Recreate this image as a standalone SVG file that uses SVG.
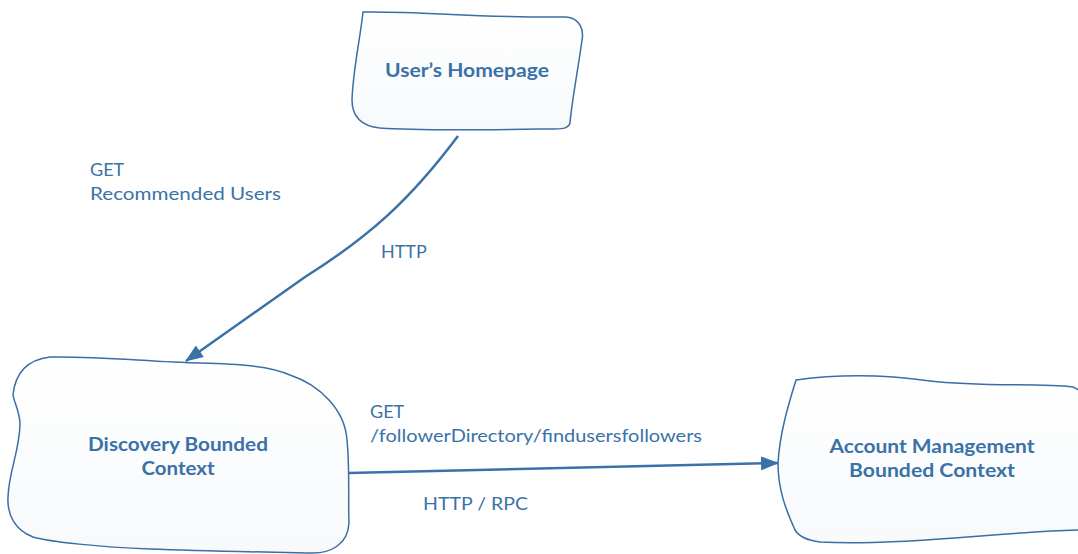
<svg xmlns="http://www.w3.org/2000/svg" width="1078" height="554" viewBox="0 0 1078 554">
<defs>
<linearGradient id="g" x1="0" y1="0" x2="0" y2="1">
<stop offset="0" stop-color="#ffffff"/>
<stop offset="1" stop-color="#f7f9fb"/>
</linearGradient>
<marker id="ah" markerWidth="18" markerHeight="14" refX="17" refY="7" orient="auto" markerUnits="userSpaceOnUse">
<path d="M0,0 L18,7 L0,14 Z" fill="#3a72a8"/>
</marker>
<style>
.shape{fill:url(#g);stroke:#3a6ea5;stroke-width:1.5}
.lbl{font-family:Lato,"Liberation Sans",sans-serif;font-weight:bold;font-size:19.5px;fill:#3a72a8;text-anchor:middle}
.t{font-family:Lato,"Liberation Sans",sans-serif;font-size:18px;fill:#3a72a8}
.c{fill:none;stroke:#3a72a8;stroke-width:2.5}
</style>
</defs>
<rect width="1078" height="554" fill="#ffffff"/>
<g id="connectors">
<path class="c" d="M458,136 C410,200 370,236 305,277 L186,361" marker-end="url(#ah)"/>
<path class="c" d="M348,473 L778,463" marker-end="url(#ah)"/>
</g>
<g id="homepage">
<path class="shape" d="M363,12 C420,11 480,18 566,17 C580,18 584,30 582,40 C578,70 572,100 570,123 C568,130 560,129 540,129 C480,130 420,131 380,128 C360,126 352,115 352,100 C353,70 360,40 363,12 Z"/>
<text class="lbl" x="467" y="77" textLength="164" lengthAdjust="spacingAndGlyphs">User’s Homepage</text>
</g>
<g id="discovery">
<path class="shape" d="M13,395 C15,375 25,360 50,357 C100,356 150,362 200,363 C240,364 270,366 290,375 C320,385 345,410 347,440 C350,470 348,500 349,523 C348,545 330,553 313,553 C260,552 200,551 150,549 C100,547 50,542 33,537 C15,530 7,515 8,497 C9,470 20,450 20,423 C19,410 14,402 13,395 Z"/>
<text class="lbl" x="178" y="451" textLength="180" lengthAdjust="spacingAndGlyphs">Discovery Bounded</text>
<text class="lbl" x="178" y="475" textLength="73" lengthAdjust="spacingAndGlyphs">Context</text>
</g>
<g id="account">
<path class="shape" d="M796,380 C840,374 880,374 930,381 C980,387 1040,383 1073,387 C1085,392 1090,400 1090,420 L1090,520 C1085,528 1080,530 1077,530 C1000,532 900,546 820,542 C805,540 798,535 795,530 C786,510 778,490 778,463 C780,430 790,400 796,380 Z"/>
<text class="lbl" x="932" y="453" textLength="205" lengthAdjust="spacingAndGlyphs">Account Management</text>
<text class="lbl" x="932" y="477" textLength="166" lengthAdjust="spacingAndGlyphs">Bounded Context</text>
</g>
<g id="labels">
<text class="t" x="90" y="176">GET</text>
<text class="t" x="90" y="200" textLength="191" lengthAdjust="spacingAndGlyphs">Recommended Users</text>
<text class="t" x="381" y="258">HTTP</text>
<text class="t" x="370" y="418">GET</text>
<text class="t" x="370" y="442" textLength="332" lengthAdjust="spacingAndGlyphs">/followerDirectory/findusersfollowers</text>
<text class="t" x="423" y="510" textLength="105" lengthAdjust="spacingAndGlyphs">HTTP / RPC</text>
</g>
</svg>
